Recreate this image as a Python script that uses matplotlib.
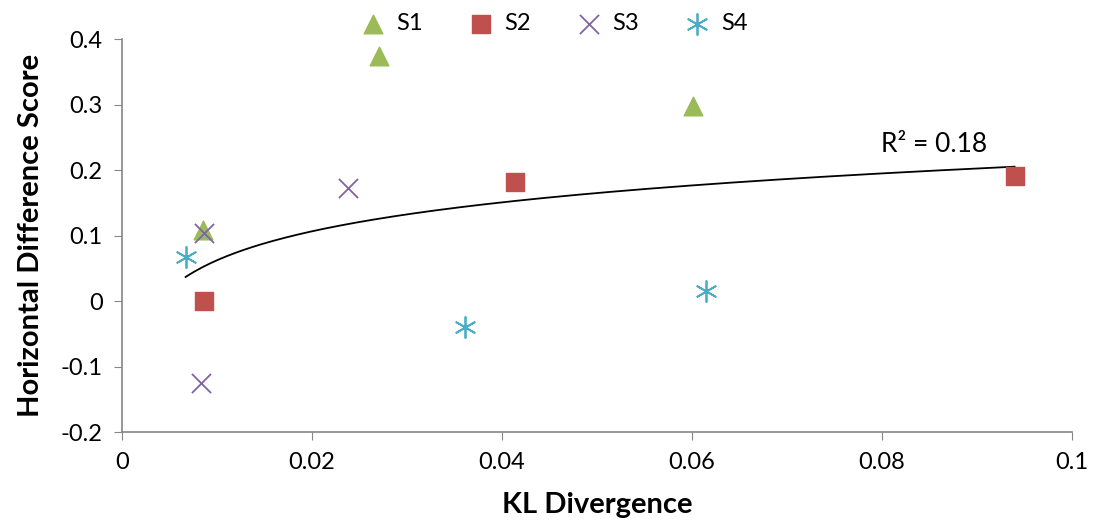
import numpy as np
import matplotlib
matplotlib.use("Agg")
import matplotlib.pyplot as plt

plt.rcParams['font.family'] = ['Lato', 'DejaVu Sans']

# data
s1_x = [0.0085, 0.0271, 0.0601]
s1_y = [0.108, 0.374, 0.298]
s2_x = [0.0086, 0.0414, 0.0940]
s2_y = [0.000, 0.182, 0.191]
s3_x = [0.0086, 0.0238, 0.0083]
s3_y = [0.104, 0.1725, -0.125]
s4_x = [0.0067, 0.0361, 0.0615]
s4_y = [0.067, -0.040, 0.015]

x_ticks = [0, 0.02, 0.04, 0.06, 0.08, 0.1]
x_labels = ['0', '0.02', '0.04', '0.06', '0.08', '0.1']
y_ticks = [-0.2, -0.1, 0, 0.1, 0.2, 0.3, 0.4]
y_labels = ['-0.2', '-0.1', '0', '0.1', '0.2', '0.3', '0.4']

fig = plt.figure(figsize=(10.94, 5.29), dpi=100)
ax = fig.add_axes([0.1115, 0.183, 0.868, 0.743])

ax.scatter(s1_x, s1_y, marker='^', s=180, color='#9bbb59', label='S1', zorder=3)
ax.scatter(s2_x, s2_y, marker='s', s=160, color='#c0504d', label='S2', zorder=3)
ax.scatter(s3_x, s3_y, marker='x', s=190, color='#8064a2', linewidths=1.3, label='S3', zorder=3)
ax.scatter(s4_x, s4_y, marker=(6, 2, 0), s=230, color='#4bacc6', linewidths=1.3, label='S4', zorder=3)

# logarithmic trendline over all points
all_x = np.array(s1_x + s2_x + s3_x + s4_x)
all_y = np.array(s1_y + s2_y + s3_y + s4_y)
b, a = np.polyfit(np.log(all_x), all_y, 1)
pred = a + b * np.log(all_x)
r2 = 1 - np.sum((all_y - pred) ** 2) / np.sum((all_y - all_y.mean()) ** 2)
xs = np.linspace(all_x.min(), all_x.max(), 200)
ax.plot(xs, a + b * np.log(xs), color='black', lw=1.3, zorder=2)
ax.text(0.0799, 0.228, 'R² = %.2f' % r2, fontsize=19)

ax.set_xlim(0, 0.1)
ax.set_ylim(-0.2, 0.4)
ax.set_xticks(x_ticks)
ax.set_xticklabels(x_labels, fontsize=17)
ax.set_yticks(y_ticks)
ax.set_yticklabels(y_labels, fontsize=17)
ax.tick_params(direction='out', length=6, color='#868686', pad=8)
for side in ['top', 'right']:
    ax.spines[side].set_visible(False)
for side in ['left', 'bottom']:
    ax.spines[side].set_color('#868686')
    ax.spines[side].set_linewidth(1.2)

ax.set_xlabel('KL Divergence', fontsize=21, fontweight='bold', labelpad=14)
ax.set_ylabel('Horizontal Difference Score', fontsize=21, fontweight='bold', labelpad=12)

ax.legend(loc='upper center', bbox_to_anchor=(0.449, 1.12), ncol=4, frameon=False,
          fontsize=17, handletextpad=0.0, columnspacing=1.45, scatterpoints=1)

fig.savefig('out.png', dpi=100)
